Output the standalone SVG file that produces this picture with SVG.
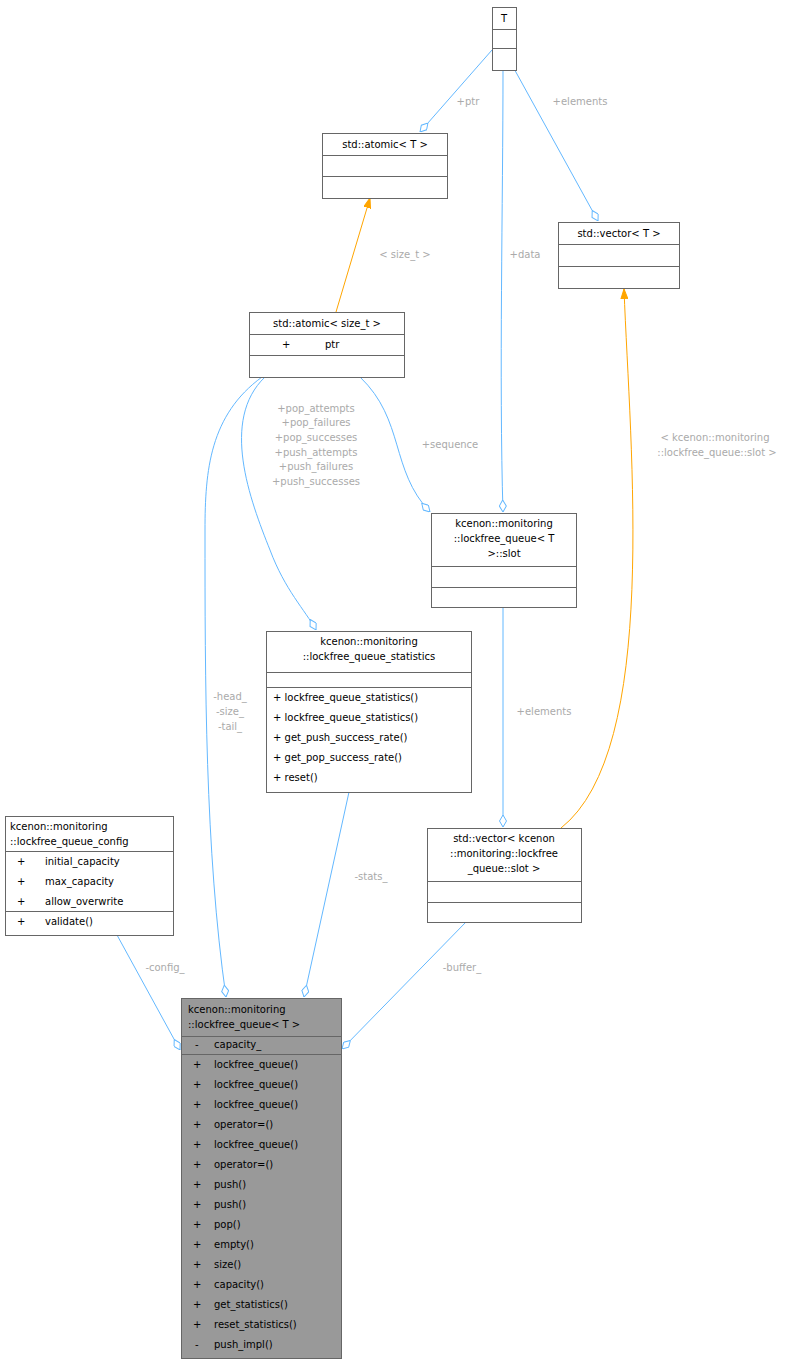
<svg xmlns="http://www.w3.org/2000/svg" width="801" height="1364" viewBox="0 0 801 1364">
<style>
text{font-family:"DejaVu Sans",sans-serif;font-size:10px;fill:#000}
.b{fill:#fff;stroke:#666;stroke-width:1}
.m{fill:#999;stroke:#666;stroke-width:1}
.l{stroke:#666;stroke-width:1}
.e{fill:none;stroke:#63b8ff;stroke-width:1}
.o{fill:none;stroke:#ffa500;stroke-width:1}
.t{fill:#aaa}
.c{text-anchor:middle}
</style>
<defs>
<marker id="d" viewBox="0 0 12 8" refX="12" refY="4" markerWidth="12" markerHeight="8" markerUnits="userSpaceOnUse" orient="auto"><path d="M0,4 L6,0.5 L12,4 L6,7.5 z" fill="#fff" stroke="#63b8ff"/></marker>
<marker id="a" viewBox="0 0 10 8" refX="10" refY="4" markerWidth="10" markerHeight="8" markerUnits="userSpaceOnUse" orient="auto"><path d="M0,0.5 L10,4 L0,7.5 z" fill="#ffa500" stroke="#ffa500"/></marker>
</defs>
<rect width="801" height="1364" fill="#fff"/>
<g id="edges">
<path class="e" d="M492,50 L420,132" marker-end="url(#d)"/>
<text class="t c" x="468" y="105">+ptr</text>
<path class="e" d="M512,65 L598,221" marker-end="url(#d)"/>
<text class="t c" x="580" y="105">+elements</text>
<path class="e" d="M503,70 C503,200 499,380 503,512" marker-end="url(#d)"/>
<text class="t c" x="525" y="258">+data</text>
<path class="o" d="M336,312 L370,198" marker-end="url(#a)"/>
<text class="t c" x="405" y="258">&lt; size_t &gt;</text>
<path class="e" d="M360,377 C405,420 390,470 430,512" marker-end="url(#d)"/>
<text class="t c" x="450" y="448">+sequence</text>
<path class="e" d="M265,377 C220,420 250,500 270,550 C285,590 305,610 316,630" marker-end="url(#d)"/>
<text class="t c" x="316" y="412">+pop_attempts</text>
<text class="t c" x="316" y="426">+pop_failures</text>
<text class="t c" x="316" y="441">+pop_successes</text>
<text class="t c" x="316" y="456">+push_attempts</text>
<text class="t c" x="316" y="470">+push_failures</text>
<text class="t c" x="316" y="485">+push_successes</text>
<path class="e" d="M262,377 C210,415 205,470 205,530 C205,680 205,850 226,997" marker-end="url(#d)"/>
<text class="t c" x="230" y="700">-head_</text>
<text class="t c" x="230" y="715">-size_</text>
<text class="t c" x="230" y="730">-tail_</text>
<path class="o" d="M561,828 C660,750 630,450 624,289" marker-end="url(#a)"/>
<text class="t c" x="715" y="441">&lt; kcenon::monitoring</text>
<text class="t c" x="717" y="456">::lockfree_queue::slot &gt;</text>
<path class="e" d="M503,607 L503,827" marker-end="url(#d)"/>
<text class="t c" x="544" y="715">+elements</text>
<path class="e" d="M349,792 L304,997" marker-end="url(#d)"/>
<text class="t c" x="371" y="880">-stats_</text>
<path class="e" d="M466,922 L342,1049" marker-end="url(#d)"/>
<text class="t c" x="462" y="971">-buffer_</text>
<path class="e" d="M117,935 L180,1050" marker-end="url(#d)"/>
<text class="t c" x="165" y="971">-config_</text>
</g>
<g id="T"><rect class="b" x="492.5" y="7.5" width="24" height="63"/><line class="l" x1="492.5" y1="29.5" x2="516.5" y2="29.5"/><line class="l" x1="492.5" y1="48.5" x2="516.5" y2="48.5"/><text class="c" x="504" y="22">T</text></g>
<g id="atomicT"><rect class="b" x="322.5" y="133.5" width="125" height="65"/><line class="l" x1="322.5" y1="155.5" x2="447.5" y2="155.5"/><line class="l" x1="322.5" y1="176.5" x2="447.5" y2="176.5"/><text class="c" x="385" y="148">std::atomic&lt; T &gt;</text></g>
<g id="vectorT"><rect class="b" x="558.5" y="222.5" width="121" height="66"/><line class="l" x1="558.5" y1="244.5" x2="679.5" y2="244.5"/><line class="l" x1="558.5" y1="266.5" x2="679.5" y2="266.5"/><text class="c" x="619" y="237">std::vector&lt; T &gt;</text></g>
<g id="atomicSize"><rect class="b" x="249.5" y="312.5" width="155" height="65"/><line class="l" x1="249.5" y1="334.5" x2="404.5" y2="334.5"/><line class="l" x1="249.5" y1="355.5" x2="404.5" y2="355.5"/><text class="c" x="327" y="327">std::atomic&lt; size_t &gt;</text><text x="282" y="348">+</text><text x="325" y="348">ptr</text></g>
<g id="slot"><rect class="b" x="431.5" y="513.5" width="145" height="94"/><line class="l" x1="431.5" y1="566.5" x2="576.5" y2="566.5"/><line class="l" x1="431.5" y1="587.5" x2="576.5" y2="587.5"/><text class="c" x="504" y="527">kcenon::monitoring</text><text class="c" x="504" y="542">::lockfree_queue&lt; T</text><text class="c" x="504" y="557">&gt;::slot</text></g>
<g id="stats"><rect class="b" x="266.5" y="631.5" width="205" height="161"/><line class="l" x1="266.5" y1="672.5" x2="471.5" y2="672.5"/><line class="l" x1="266.5" y1="687.5" x2="471.5" y2="687.5"/><text class="c" x="369" y="645">kcenon::monitoring</text><text class="c" x="369" y="660">::lockfree_queue_statistics</text>
<text x="273" y="701">+  lockfree_queue_statistics()</text><text x="273" y="721">+  lockfree_queue_statistics()</text><text x="273" y="741">+  get_push_success_rate()</text><text x="273" y="761">+  get_pop_success_rate()</text><text x="273" y="781">+  reset()</text></g>
<g id="vectorSlot"><rect class="b" x="427.5" y="828.5" width="154" height="94"/><line class="l" x1="427.5" y1="881.5" x2="581.5" y2="881.5"/><line class="l" x1="427.5" y1="902.5" x2="581.5" y2="902.5"/><text class="c" x="504" y="842">std::vector&lt; kcenon</text><text class="c" x="504" y="857">::monitoring::lockfree</text><text class="c" x="504" y="872">_queue::slot &gt;</text></g>
<g id="config"><rect class="b" x="5.5" y="816.5" width="168" height="119"/><line class="l" x1="5.5" y1="851.5" x2="173.5" y2="851.5"/><line class="l" x1="5.5" y1="911.5" x2="173.5" y2="911.5"/><text x="10" y="830">kcenon::monitoring</text><text x="10" y="845">::lockfree_queue_config</text>
<text x="17" y="865">+</text><text x="45" y="865">initial_capacity</text><text x="17" y="885">+</text><text x="45" y="885">max_capacity</text><text x="17" y="905">+</text><text x="45" y="905">allow_overwrite</text><text x="17" y="925">+</text><text x="45" y="925">validate()</text></g>
<g id="main"><rect class="m" x="181.5" y="998.5" width="160" height="360"/><line class="l" x1="181.5" y1="1036.5" x2="341.5" y2="1036.5"/><line class="l" x1="181.5" y1="1054.5" x2="341.5" y2="1054.5"/><text x="188" y="1013">kcenon::monitoring</text><text x="188" y="1028">::lockfree_queue&lt; T &gt;</text>
<text x="195" y="1048">-</text><text x="214" y="1048">capacity_</text>
<text x="193" y="1068">+</text><text x="214" y="1068">lockfree_queue()</text>
<text x="193" y="1088">+</text><text x="214" y="1088">lockfree_queue()</text>
<text x="193" y="1108">+</text><text x="214" y="1108">lockfree_queue()</text>
<text x="193" y="1128">+</text><text x="214" y="1128">operator=()</text>
<text x="193" y="1148">+</text><text x="214" y="1148">lockfree_queue()</text>
<text x="193" y="1168">+</text><text x="214" y="1168">operator=()</text>
<text x="193" y="1188">+</text><text x="214" y="1188">push()</text>
<text x="193" y="1208">+</text><text x="214" y="1208">push()</text>
<text x="193" y="1228">+</text><text x="214" y="1228">pop()</text>
<text x="193" y="1248">+</text><text x="214" y="1248">empty()</text>
<text x="193" y="1268">+</text><text x="214" y="1268">size()</text>
<text x="193" y="1288">+</text><text x="214" y="1288">capacity()</text>
<text x="193" y="1308">+</text><text x="214" y="1308">get_statistics()</text>
<text x="193" y="1328">+</text><text x="214" y="1328">reset_statistics()</text>
<text x="195" y="1348">-</text><text x="214" y="1348">push_impl()</text></g>
</svg>
